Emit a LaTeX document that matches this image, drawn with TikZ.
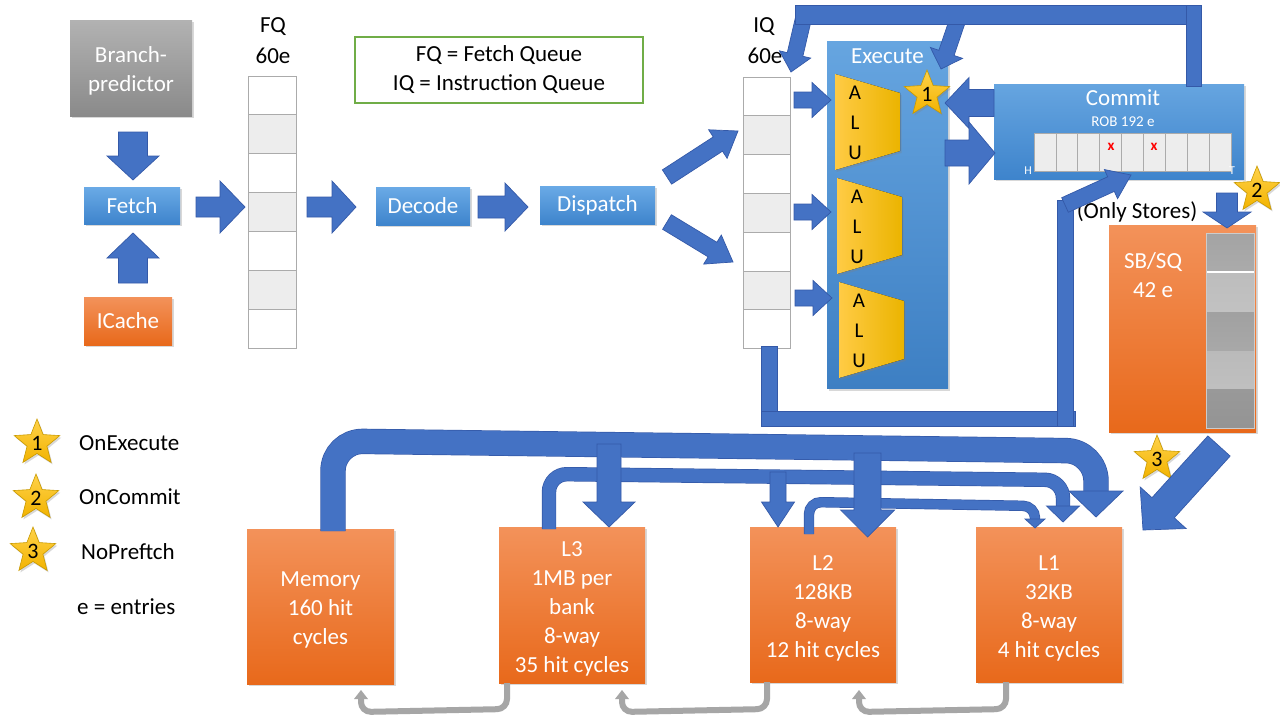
\documentclass[tikz,border=0pt]{standalone}
\usepackage{fontspec}
\setmainfont{Carlito}
\usetikzlibrary{calc,shapes.geometric,shadows}
\definecolor{ablue}{HTML}{4472C4}
\definecolor{ablueline}{HTML}{3459A8}
\definecolor{btop}{HTML}{6AAAE6}
\definecolor{bbot}{HTML}{3E84CC}
\definecolor{etop}{HTML}{66A5E0}
\definecolor{ebot}{HTML}{3D7FC3}
\definecolor{otop}{HTML}{F3925A}
\definecolor{obot}{HTML}{E8691B}
\definecolor{gtop}{HTML}{B2B2B2}
\definecolor{gbot}{HTML}{8A8A8A}
\definecolor{cellgray}{HTML}{EDEDED}
\definecolor{cellline}{HTML}{ABABAB}
\definecolor{lgreen}{HTML}{70AD47}
\definecolor{stop}{HTML}{FFD24A}
\definecolor{sbot}{HTML}{F2B300}
\definecolor{sline}{HTML}{C99A00}
\definecolor{atop}{HTML}{FFCB45}
\definecolor{abot}{HTML}{EBB400}
\definecolor{garr}{HTML}{A6A6A6}
\definecolor{redx}{HTML}{FF0000}
\tikzset{
  every node/.style={font=\fontsize{23}{29}\selectfont},
  shad/.style={drop shadow={shadow xshift=1.5pt, shadow yshift=-2pt, opacity=0.3}},
  box/.style={rectangle, inner sep=0pt, align=center, text=white, shad},
  bluebox/.style={box, top color=btop, bottom color=bbot},
  orangebox/.style={box, top color=otop, bottom color=obot},
  graybox/.style={box, top color=gtop, bottom color=gbot},
  boxtext/.style={inner sep=0pt, align=center, text=white},
  cell/.style={draw=cellline, line width=0.9pt},
  barrow/.style={fill=ablue, draw=ablueline, line width=0.7pt, line join=miter},
  uline/.style={draw=ablueline, double=ablue, double distance=#1, line width=0.7pt},
  gline/.style={draw=garr, line width=6pt},
  starsty/.style={star, star points=5, star point ratio=2.3, minimum size=48pt, inner sep=0pt,
    top color=stop, bottom color=sbot, draw=sline, line width=0.6pt, text=black,
    font=\fontsize{22}{22}\selectfont, shad},
  alulbl/.style={align=center, inner sep=0pt, font=\fontsize{21}{30}\selectfont},
  plain/.style={inner sep=0pt, text=black},
}
\newcommand\blockarrow[5]{%
  \coordinate (bahd) at ($(#2)!#5!(#1)$);
  \filldraw[barrow] ($(#1)!#3!90:(#2)$) -- ($(bahd)!#3!90:(#2)$) -- ($(bahd)!#4!90:(#2)$) -- (#2)
    -- ($(bahd)!#4!-90:(#2)$) -- ($(bahd)!#3!-90:(#2)$) -- ($(#1)!#3!-90:(#2)$) -- cycle;
}
\newcommand\grayhead[2]{%
  \fill[garr] (#1-7,#2+9) -- (#1+7,#2+9) -- (#1,#2) -- cycle;
}
\begin{document}
\begin{tikzpicture}[x=1pt,y=-1pt]
\useasboundingbox (0,0) rectangle (1280,720);
\fill[white] (0,0) rectangle (1280,720);

% ---------- legend box ----------
\node[draw=lgreen, line width=1.1pt, minimum width=288pt, minimum height=66pt, align=center, inner sep=0pt] (legend) at (499,70) {FQ = Fetch Queue\\IQ = Instruction Queue};

% ---------- front end ----------
\node[graybox, minimum width=122pt, minimum height=96pt] (bp) at (131,68) {};
\node[boxtext] (bptext) at (131,70.5) {Branch-\\predictor};
\node[bluebox, minimum width=96pt, minimum height=37pt] (fetch) at (132,205.5) {Fetch};
\node[orangebox, minimum width=88pt, minimum height=48pt] (icache) at (128,321) {ICache};
\node[bluebox, minimum width=94pt, minimum height=38pt] (decode) at (423,206) {Decode};
\node[bluebox, minimum width=115pt, minimum height=38pt] (dispatch) at (597.5,205) {Dispatch};

% FQ column
\node[plain] (fqlbl) at (273,27) {FQ};
\node[plain] (fqsize) at (273,56) {60e};
\foreach \i in {0,...,6} \filldraw[cell, fill=white] (248,{76+\i*38.9}) rectangle (296,{76+(\i+1)*38.9});
\foreach \i in {1,3,5} \filldraw[cell, fill=cellgray] (248,{76+\i*38.9}) rectangle (296,{76+(\i+1)*38.9});

% IQ column
\node[plain] (iqlbl) at (764,27) {IQ};
\node[plain] (iqsize) at (765,56) {60e};
\foreach \i in {0,...,6} \filldraw[cell, fill=white] (743,{77+\i*38.8}) rectangle (790,{77+(\i+1)*38.8});
\foreach \i in {1,3,5} \filldraw[cell, fill=cellgray] (743,{77+\i*38.8}) rectangle (790,{77+(\i+1)*38.8});

% front-end arrows
\blockarrow{133,132}{133,180}{14.5pt}{26pt}{24pt}
\blockarrow{133,283}{133,233}{14.5pt}{26pt}{25pt}
\blockarrow{196,207}{245,207}{10pt}{26pt}{25pt}
\blockarrow{307,207}{356,207}{10pt}{26pt}{24pt}
\blockarrow{478,207}{528,207}{11pt}{24pt}{23pt}
\blockarrow{667,177}{738,131}{8.5pt}{17pt}{24pt}
\blockarrow{667,222}{733,262}{8.5pt}{17pt}{24pt}

% ---------- execute ----------
\node[box, top color=etop, bottom color=ebot, minimum width=121pt, minimum height=347pt] (exec) at (887.5,215) {};
\node[text=white, inner sep=0pt] (exectitle) at (887.5,56) {Execute};
\foreach \dx/\yt/\n in {0/74/1, 2/178/2, 4/282/3} {
  \fill[left color=atop, right color=abot, shad] (835+\dx,\yt) -- (900+\dx,\yt+19) -- (900+\dx,\yt+77) -- (835+\dx,\yt+96) -- cycle;
}
\node[alulbl] (alu1) at (855,123) {A\\L\\U};
\node[alulbl] (alu2) at (857,227) {A\\L\\U};
\node[alulbl] (alu3) at (859,331) {A\\L\\U};
\blockarrow{794,100}{831,100}{8pt}{17.5pt}{19pt}
\blockarrow{794,212}{831,212}{8pt}{17.5pt}{19pt}
\blockarrow{795,298}{832,298}{8pt}{17.5pt}{19pt}

% ---------- commit ----------
\node[box, top color=etop, bottom color=bbot, minimum width=250pt, minimum height=95pt] (commit) at (1119,131.5) {};
\node[text=white, inner sep=0pt] (committitle) at (1123,98) {Commit};
\node[text=white, inner sep=0pt, font=\fontsize{15}{15}\selectfont] (roblbl) at (1123,122) {ROB 192 e};
\foreach \i in {0,...,8} \filldraw[cell, fill=cellgray, line width=0.8pt] ({1034+\i*21.9},133) rectangle ({1034+(\i+1)*21.9},171);
\node[text=redx, inner sep=0pt, font=\bfseries\fontsize{15}{15}\selectfont] (x1) at (1111,147) {x};
\node[text=redx, inner sep=0pt, font=\bfseries\fontsize{15}{15}\selectfont] (x2) at (1154,147) {x};
\node[text=white, inner sep=0pt, font=\fontsize{12}{12}\selectfont] (robh) at (1028,171) {H};
\node[text=white, inner sep=0pt, font=\fontsize{12}{12}\selectfont] (robt) at (1232,171) {T};

% commit <-> execute arrows
\blockarrow{994,103}{945,103}{13.5pt}{25.5pt}{24pt}
\blockarrow{945,153}{995,153}{13pt}{31pt}{26pt}

% top feedback from commit to IQ / execute
\blockarrow{804,16}{791,72}{8pt}{16pt}{18pt}
\blockarrow{959,16}{941,69}{8pt}{17pt}{17pt}
\filldraw[barrow] (795,5) rectangle (1201,24);
\filldraw[barrow] (1186,5) rectangle (1201,86);

% ---------- store buffer ----------
\node[orangebox, minimum width=147pt, minimum height=207pt] (sbsq) at (1182.5,328.5) {};
\node[boxtext] (sblbl) at (1153,275) {SB/SQ\\42 e};
\fill[top color=black!36, bottom color=black!33] (1206,233) rectangle (1254,272);
\fill[top color=black!26, bottom color=black!24] (1206,272) rectangle (1254,312);
\fill[top color=black!37, bottom color=black!34] (1206,312) rectangle (1254,351);
\fill[top color=black!27, bottom color=black!25] (1206,351) rectangle (1254,389);
\fill[top color=black!40, bottom color=black!42] (1206,389) rectangle (1254,428);
\draw[white, line width=1.6pt] (1206,272) -- (1254,272);
\draw[black!20, line width=0.6pt] (1206,233) rectangle (1254,428);
\node[plain] (onlystores) at (1137,212) {(Only Stores)};
\blockarrow{1227,193}{1227,228}{10.5pt}{24pt}{16pt}

% IQ -> ROB path
\filldraw[barrow] (761,346) rectangle (777,426);
\filldraw[barrow] (761,411) rectangle (1075,426);
\filldraw[barrow] (1057,200) rectangle (1073,426);
\blockarrow{1065,205}{1131,175}{8pt}{16pt}{22pt}

% stars on pipeline
\node[starsty] (star1) at (927,94) {1};
\node[starsty] (star2) at (1257,190) {2};
\node[starsty] (star3) at (1157,459) {3};

% SB -> L1
\blockarrow{1219,446}{1143,530}{15pt}{31pt}{30pt}

% ---------- caches ----------
\node[orangebox, minimum width=147pt, minimum height=155pt] (mem) at (320.5,606.5) {};
\node[boxtext] (memtext) at (320.5,609.5) {Memory\\160 hit\\cycles};
\node[orangebox, minimum width=146pt, minimum height=156pt] (l3) at (572,605) {};
\node[boxtext] (l3text) at (572,608.5) {L3\\1MB per\\bank\\8-way\\35 hit cycles};
\node[orangebox, minimum width=146pt, minimum height=155pt] (l2) at (823,604.5) {};
\node[boxtext] (l2text) at (823,608) {L2\\128KB\\8-way\\12 hit cycles};
\node[orangebox, minimum width=146pt, minimum height=155pt] (l1) at (1049,604.5) {};
\node[boxtext] (l1text) at (1049,608) {L1\\32KB\\8-way\\4 hit cycles};

% U-shaped fill arrows to L1
\draw[uline=24pt, rounded corners=30pt] (333,531) -- (333,441) -- (1096,451) -- (1096,494);
\filldraw[barrow] (1069,491) -- (1123,491) -- (1096,517) -- cycle;
\draw[uline=13pt, rounded corners=18pt] (549,529) -- (549,474) -- (1063,480) -- (1063,508);
\filldraw[barrow] (1046.5,506) -- (1079.5,506) -- (1063,522) -- cycle;
\draw[uline=9pt, rounded corners=12pt] (809,534) -- (809,502) -- (1035,506) -- (1035,521);
\filldraw[barrow] (1025,519) -- (1045,519) -- (1035,528) -- cycle;

% down arrows
\blockarrow{609,444}{609,527}{12pt}{26pt}{25pt}
\blockarrow{778,472}{778,527}{8pt}{16.5pt}{25pt}
\blockarrow{867.5,453}{867.5,537}{13.5pt}{27pt}{27pt}

% gray writeback arrows
\draw[gline, rounded corners=10pt] (507,683) -- (507,709) -- (361,712) -- (361,699);
\grayhead{361}{690}
\draw[gline, rounded corners=10pt] (767,682) -- (767,709) -- (622,712) -- (622,699);
\grayhead{622}{690}
\draw[gline, rounded corners=10pt] (1006,682) -- (1006,709) -- (859,712) -- (859,699);
\grayhead{859}{690}

% ---------- legend ----------
\node[starsty] (lstar1) at (37,443) {1};
\node[starsty] (lstar2) at (36,498) {2};
\node[starsty] (lstar3) at (33,551) {3};
\node[plain, anchor=west] (lon1) at (79,443) {OnExecute};
\node[plain, anchor=west] (lon2) at (79,497) {OnCommit};
\node[plain, anchor=west] (lon3) at (81,552) {NoPreftch};
\node[plain, anchor=west] (lent) at (77,607) {e = entries};
\end{tikzpicture}
\end{document}
